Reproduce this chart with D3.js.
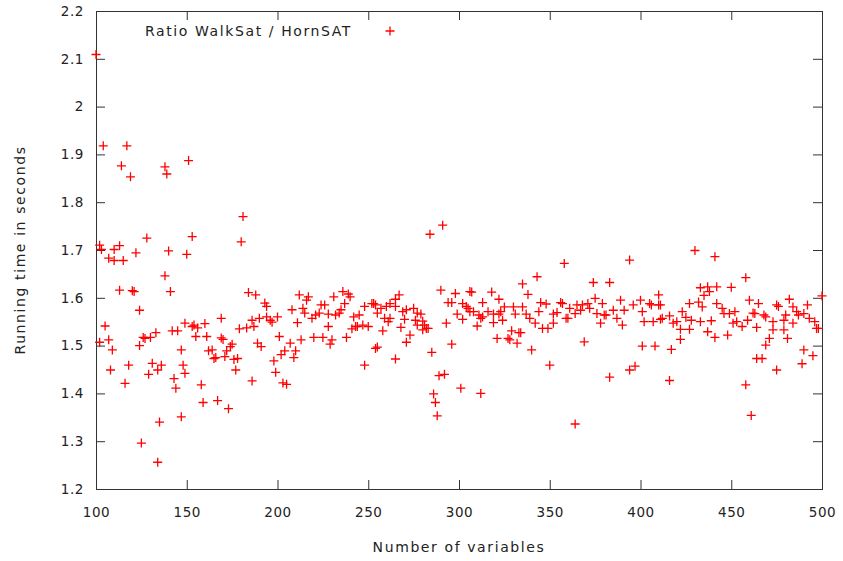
<!DOCTYPE html>
<html>
<head>
<meta charset="utf-8">
<title>Ratio WalkSat / HornSAT</title>
<script src="https://d3js.org/d3.v7.min.js"></script>
<style>
  body { margin: 0; background: #fff; }
  svg { background-color: white; }
  text { font-family: "DejaVu Sans", sans-serif; fill: #222; }
  .tick text { font-size: 13.5px; letter-spacing: 0.6px; }
  .label { font-size: 14px; letter-spacing: 1.6px; }
  .tick line { stroke: #333; }
  .frame { fill: none; stroke: #333; stroke-width: 1px; }
  .pt { fill: none; stroke: #ff0000; stroke-width: 1.3px; }
</style>
</head>
<body>
<svg></svg>
<script>
// ---- data ----
var xTicks = [100, 150, 200, 250, 300, 350, 400, 450, 500];
var yTicks = [1.2, 1.3, 1.4, 1.5, 1.6, 1.7, 1.8, 1.9, 2, 2.1, 2.2];
var seriesLabel = "Ratio WalkSat / HornSAT";
var xLabel = "Number of variables";
var yLabel = "Running time in seconds";

// [number of variables, ratio]
var points100 = [
  [100,2.109],[102,1.710],[103,1.701],[104,1.918],[117,1.918],[114,1.876],[119,1.853],
  [138,1.874],[139,1.859],[128,1.725],[107,1.683],[110,1.701],[113,1.709],[110,1.678],
  [115,1.678],[122,1.694],[140,1.698],[138,1.646],[141,1.613],[113,1.616],[120,1.615],
  [121,1.613],[124,1.574],[105,1.541],[102,1.507],[107,1.512],[109,1.491],[124,1.500],
  [126,1.517],[127,1.515],[130,1.517],[133,1.527],[142,1.531],[145,1.531],[149,1.547],
  [147,1.491],[131,1.463],[134,1.449],[136,1.459],[148,1.459],[108,1.449],[118,1.459],
  [116,1.421],[129,1.440],[143,1.431],[144,1.411],[135,1.340],[147,1.351],[125,1.296],
  [134,1.256]
];
var points150 = [
  [151,1.887],[181,1.770],[153,1.728],[150,1.691],[180,1.717],[184,1.611],[188,1.606],
  [193,1.589],[194,1.582],[200,1.560],[153,1.540],[154,1.543],[156,1.537],[160,1.546],
  [155,1.519],[161,1.519],[169,1.557],[169,1.516],[170,1.513],[174,1.498],[175,1.503],
  [162,1.489],[164,1.491],[165,1.473],[166,1.475],[171,1.477],[172,1.489],[176,1.471],
  [178,1.473],[177,1.449],[179,1.535],[183,1.537],[186,1.553],[187,1.540],[190,1.557],
  [194,1.560],[196,1.553],[197,1.549],[186,1.426],[189,1.505],[191,1.498],[158,1.418],
  [159,1.381],[167,1.385],[173,1.368],[149,1.442],[201,1.519],[198,1.468],[199,1.444],
  [202,1.481]
];
var points200 = [
  [212,1.606],[217,1.602],[216,1.595],[208,1.575],[214,1.578],[215,1.568],[219,1.557],
  [221,1.564],[223,1.568],[224,1.585],[226,1.585],[228,1.566],[231,1.602],[236,1.613],
  [239,1.608],[240,1.602],[237,1.588],[232,1.564],[234,1.568],[235,1.575],[211,1.548],
  [207,1.505],[204,1.489],[210,1.489],[209,1.475],[213,1.512],[220,1.517],[225,1.517],
  [228,1.540],[230,1.512],[229,1.503],[238,1.517],[203,1.422],[205,1.419],[241,1.535],
  [243,1.540],[244,1.540],[247,1.543],[250,1.540],[242,1.560],[245,1.564],[248,1.582],
  [252,1.588],[254,1.585],[255,1.568],[248,1.459],[254,1.494]
];
var points250 = [
  [291,1.752],[284,1.733],[253,1.588],[257,1.578],[260,1.582],[262,1.588],[265,1.597],
  [267,1.606],[259,1.557],[262,1.557],[261,1.550],[258,1.531],[265,1.582],[269,1.571],
  [271,1.575],[270,1.555],[268,1.538],[275,1.578],[277,1.568],[279,1.566],[280,1.551],
  [276,1.553],[277,1.543],[281,1.543],[282,1.536],[280,1.533],[283,1.536],[273,1.522],
  [271,1.507],[255,1.497],[265,1.472],[285,1.486],[290,1.616],[294,1.590],[296,1.590],
  [298,1.609],[293,1.547],[296,1.503],[289,1.437],[292,1.440],[286,1.399],[287,1.381],
  [288,1.353],[301,1.411],[302,1.588],[304,1.582],[306,1.571],[299,1.566],[302,1.555],
  [306,1.613]
];
var points300 = [
  [358,1.672],[343,1.644],[335,1.629],[338,1.607],[307,1.612],[318,1.612],[322,1.597],
  [313,1.590],[305,1.578],[308,1.571],[311,1.564],[313,1.560],[316,1.571],[319,1.566],
  [322,1.566],[323,1.571],[325,1.581],[330,1.581],[331,1.566],[335,1.581],[337,1.566],
  [339,1.557],[342,1.547],[344,1.571],[345,1.590],[348,1.587],[352,1.566],[354,1.569],
  [356,1.590],[359,1.557],[310,1.541],[312,1.557],[319,1.548],[324,1.553],[346,1.536],
  [349,1.536],[352,1.547],[321,1.515],[327,1.515],[328,1.512],[329,1.531],[333,1.527],
  [334,1.527],[332,1.505],[340,1.491],[350,1.459],[312,1.400]
];
var points350 = [
  [394,1.679],[374,1.632],[383,1.632],[357,1.588],[361,1.578],[365,1.585],[368,1.585],
  [371,1.588],[375,1.599],[379,1.588],[389,1.595],[396,1.585],[400,1.595],[405,1.588],
  [410,1.606],[360,1.557],[364,1.567],[367,1.574],[372,1.578],[376,1.567],[380,1.564],
  [385,1.574],[387,1.557],[391,1.574],[401,1.571],[406,1.585],[411,1.585],[378,1.547],
  [381,1.564],[390,1.543],[402,1.550],[407,1.550],[411,1.555],[369,1.508],[401,1.499],
  [408,1.499],[397,1.457],[394,1.449],[383,1.434],[364,1.336]
];
var points400 = [
  [430,1.699],[441,1.686],[458,1.642],[410,1.585],[433,1.621],[437,1.623],[442,1.623],
  [450,1.622],[435,1.605],[438,1.613],[427,1.588],[432,1.591],[434,1.581],[423,1.571],
  [412,1.557],[416,1.562],[420,1.550],[425,1.559],[428,1.553],[433,1.550],[439,1.552],
  [442,1.588],[445,1.578],[446,1.567],[449,1.567],[452,1.571],[460,1.595],[463,1.567],
  [418,1.547],[422,1.534],[427,1.534],[437,1.529],[441,1.517],[448,1.522],[451,1.547],
  [453,1.550],[456,1.540],[459,1.553],[422,1.513],[417,1.492],[416,1.427],[458,1.418],
  [461,1.354],[464,1.473]
];
var points450 = [
  [500,1.604],[482,1.597],[475,1.585],[476,1.582],[465,1.588],[462,1.568],[468,1.564],
  [469,1.560],[473,1.550],[479,1.553],[480,1.564],[484,1.581],[486,1.571],[487,1.564],
  [490,1.567],[492,1.585],[493,1.557],[496,1.550],[497,1.536],[498,1.536],[473,1.533],
  [479,1.533],[464,1.538],[484,1.547],[471,1.515],[469,1.501],[481,1.515],[467,1.473],
  [475,1.449],[489,1.462],[490,1.491],[495,1.479]
];
var points = [].concat(points100, points150, points200, points250,
                       points300, points350, points400, points450);

// ---- layout ----
var svgWidth = 843, svgHeight = 561,
    margin = {top: 11, right: 21, bottom: 72, left: 96},
    width = svgWidth - margin.left - margin.right,
    height = svgHeight - margin.top - margin.bottom,
    tick = 9, cross = 4.5;

var x = d3.scaleLinear().domain([100, 500]).range([0, width]);
var y = d3.scaleLinear().domain([1.2, 2.2]).range([height, 0]);

var svg = d3.select("svg")
  .attr("width", svgWidth)
  .attr("height", svgHeight);

var g = svg.append("g")
  .attr("transform", "translate(" + [margin.left, margin.top] + ")");

// axes, gnuplot style: inward ticks mirrored on all four sides
var fmt = d3.format("~g");
g.append("g")
  .attr("transform", "translate(0," + height + ")")
  .call(d3.axisBottom(x).tickValues(xTicks).tickSize(-tick).tickPadding(18).tickFormat(fmt))
  .call(function(a) { a.select(".domain").remove(); });
g.append("g")
  .call(d3.axisTop(x).tickValues(xTicks).tickSize(-tick).tickFormat(""))
  .call(function(a) { a.select(".domain").remove(); });
g.append("g")
  .call(d3.axisLeft(y).tickValues(yTicks).tickSize(-tick).tickPadding(12).tickFormat(fmt))
  .call(function(a) { a.select(".domain").remove(); });
g.append("g")
  .attr("transform", "translate(" + width + ",0)")
  .call(d3.axisRight(y).tickValues(yTicks).tickSize(-tick).tickFormat(""))
  .call(function(a) { a.select(".domain").remove(); });

g.selectAll(".tick text").attr("fill", "#222").style("font-family", '"DejaVu Sans", sans-serif');

g.append("rect")
  .attr("class", "frame")
  .attr("x", 0.5).attr("y", 0.5)
  .attr("width", width).attr("height", height);

// points
var crossPath = "M" + (-cross) + ",0H" + cross + "M0," + (-cross) + "V" + cross;
g.append("g").selectAll("path.pt")
  .data(points)
  .enter().append("path")
    .attr("class", "pt")
    .attr("transform", function(d) {
      return "translate(" + [x(d[0]), y(d[1])] + ")";
    })
    .attr("d", crossPath);

// key
g.append("text")
  .attr("class", "label")
  .attr("x", 256).attr("y", 25)
  .attr("text-anchor", "end")
  .text(seriesLabel);
g.append("path")
  .attr("class", "pt")
  .attr("transform", "translate(294,20)")
  .attr("d", crossPath);

// axis titles
svg.append("text")
  .attr("class", "label")
  .attr("x", margin.left + width / 2).attr("y", 552)
  .attr("text-anchor", "middle")
  .text(xLabel);
svg.append("text")
  .attr("class", "label")
  .attr("transform", "translate(25," + (margin.top + height / 2) + ") rotate(-90)")
  .attr("text-anchor", "middle")
  .text(yLabel);
</script>
</body>
</html>
